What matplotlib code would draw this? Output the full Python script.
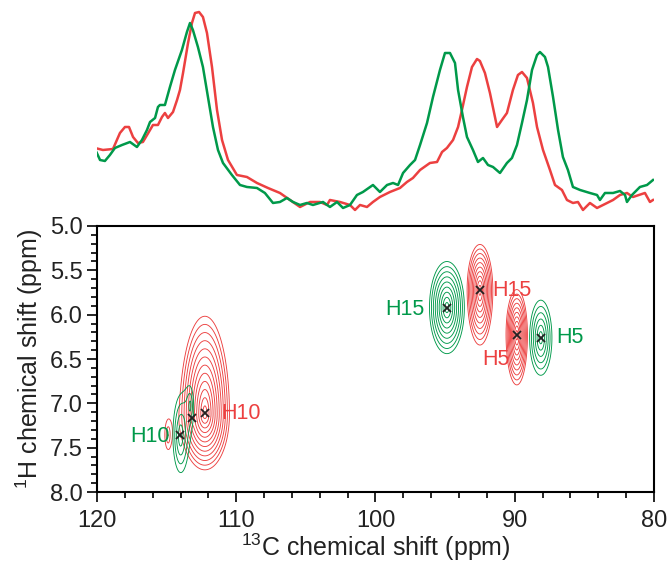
import numpy as np
import matplotlib
matplotlib.use('Agg')
from matplotlib import pyplot as plt
from matplotlib.ticker import MultipleLocator, FormatStrFormatter

plt.rcParams['font.family'] = ['Liberation Sans', 'DejaVu Sans']
plt.rcParams['mathtext.default'] = 'regular'

RED = '#ec4040'
GREEN = '#00994a'
TXT = '#222222'

# 1D 13C spectra (ppm, intensity in arbitrary units)
red_ppm = [120.14, 119.57, 118.85, 118.35, 117.99, 117.70, 117.41, 117.06, 116.70, 116.19,
           115.98, 115.62, 115.33, 115.12, 114.90, 114.54, 114.25, 114.04, 113.82, 113.46,
           113.18, 112.96, 112.67, 112.39, 112.10, 111.74, 111.38, 111.02, 110.59, 109.95,
           109.23, 108.51, 107.72, 106.86, 106.14, 105.42, 104.70, 103.99, 103.48, 103.27,
           102.55, 101.83, 101.47, 101.11, 100.61, 100.18, 99.68, 98.96, 98.24, 97.74,
           97.31, 96.80, 96.09, 95.58, 95.22, 94.87, 94.43, 94.07, 93.79, 93.43,
           93.07, 92.71, 92.50, 92.14, 91.78, 91.42, 91.27, 90.92, 90.56, 90.13,
           89.77, 89.48, 89.12, 88.69, 88.40, 87.97, 87.47, 87.11, 86.61, 86.25,
           85.82, 85.46, 85.10, 84.60, 84.09, 83.37, 82.94, 82.44, 81.94, 81.51,
           80.65, 80.29, 80.07]
red_int = [67, 65, 66, 82, 88, 88, 78, 72, 73, 85,
           90, 90, 98, 102, 97, 103, 115, 125, 142, 172,
           192, 202, 203, 198, 182, 148, 105, 75, 55, 40,
           38, 32, 27, 22, 15, 8, 13, 13, 10, 15,
           13, 10, 5, 10, 8, 13, 18, 23, 27, 33,
           37, 45, 52, 53, 63, 67, 75, 88, 105, 128,
           148, 156, 154, 142, 122, 98, 88, 95, 102, 125,
           140, 143, 137, 112, 88, 65, 45, 30, 25, 15,
           12, 13, 5, 12, 7, 12, 15, 20, 22, 18,
           22, 13, 15]

green_ppm = [120.14, 119.78, 119.43, 119.07, 118.71, 118.20, 117.63, 117.13, 116.77, 116.41,
             116.19, 115.83, 115.62, 115.48, 115.12, 114.76, 114.40, 113.90, 113.54, 113.32,
             113.11, 112.75, 112.39, 112.03, 111.67, 111.31, 110.95, 110.31, 109.73, 109.23,
             108.51, 107.94, 107.36, 106.86, 106.36, 105.92, 105.42, 104.92, 104.49, 103.77,
             103.27, 102.76, 102.33, 101.83, 101.33, 100.90, 100.18, 99.68, 99.17, 98.74,
             98.38, 98.02, 97.52, 97.16, 96.80, 96.30, 95.87, 95.37, 95.01, 94.65,
             94.29, 94.07, 93.72, 93.43, 93.00, 92.64, 92.28, 91.92, 91.56, 91.06,
             90.56, 90.20, 89.84, 89.48, 89.12, 88.76, 88.40, 88.19, 87.83, 87.61,
             87.25, 86.89, 86.54, 86.18, 85.82, 85.31, 84.60, 84.09, 83.88, 83.52,
             82.94, 82.44, 82.08, 81.94, 81.58, 81.01, 80.50, 80.07]
green_int = [66, 55, 54, 60, 67, 70, 73, 68, 75, 85,
             93, 97, 108, 110, 110, 128, 145, 165, 183, 192,
             185, 168, 148, 118, 88, 65, 52, 40, 30, 28,
             27, 22, 12, 13, 17, 13, 10, 12, 10, 13,
             8, 13, 7, 10, 20, 23, 30, 23, 30, 32,
             30, 42, 50, 55, 70, 92, 118, 145, 162, 162,
             152, 125, 98, 78, 65, 53, 57, 50, 48, 42,
             52, 57, 70, 92, 115, 145, 160, 163, 158, 148,
             118, 85, 58, 45, 28, 25, 22, 20, 15, 22,
             22, 24, 20, 13, 20, 28, 30, 35]

# 2D peaks: 13C center, 1H center, 13C width, 1H width above / below center, height
red_c = [112.25, 113.18, 114.90, 92.50, 89.85]
red_h = [7.12, 7.18, 7.36, 5.72, 6.23]
red_wc = [0.56, 0.08, 0.38, 0.35, 0.29]
red_wup = [0.35, 0.05, 0.26, 0.195, 0.195]
red_wdn = [0.20, 0.05, 0.26, 0.237, 0.214]
red_a = [23.3, 2.0, 1.6, 13.8, 13.8]

green_c = [114.00, 113.30, 94.87, 88.13]
green_h = [7.37, 7.02, 5.92, 6.26]
green_wc = [0.51, 0.30, 0.53, 0.51]
green_wup = [0.40, 0.25, 0.22, 0.27]
green_wdn = [0.38, 0.25, 0.22, 0.27]
green_a = [2.86, 1.4, 10.6, 4.8]

cross_c = [114.04, 113.18, 112.25, 94.87, 92.51, 89.85, 88.13]
cross_h = [7.36, 7.16, 7.11, 5.92, 5.72, 6.23, 6.26]

labels = ['H10', 'H10', 'H15', 'H15', 'H5', 'H5']
label_c = [116.2, 109.65, 97.9, 90.2, 91.35, 86.0]
label_h = [7.37, 7.11, 5.94, 5.73, 6.50, 6.26]
label_col = [GREEN, RED, GREEN, RED, RED, GREEN]


def peak_field(cc, hh, wc, wup, wdn, amp, X, Y):
	Z = np.zeros_like(X)
	for c0, h0, sc, su, sd, a in zip(cc, hh, wc, wup, wdn, amp):
		sh = np.where(Y < h0, su, sd)
		rho = np.sqrt(((X - c0) / sc) ** 2 + ((Y - h0) / sh) ** 2)
		Z += a * np.exp(-rho)
	return Z


fig = plt.figure(figsize=(6.72, 5.65), dpi=100)

ax1 = fig.add_axes([0.1443, 0.6195, 0.8289, 0.3628])
ax1.plot(red_ppm, red_int, color=RED, lw=1.8)
ax1.plot(green_ppm, green_int, color=GREEN, lw=1.8)
ax1.set_xlim(120, 80)
ax1.set_ylim(0, 205)
ax1.axis('off')

ax2 = fig.add_axes([0.1443, 0.1292, 0.8289, 0.4708])
xc = np.linspace(120, 80, 1000)
yh = np.linspace(5, 8, 800)
X, Y = np.meshgrid(xc, yh)
levels = 1.3 ** np.arange(0, 14)
ax2.contour(X, Y, peak_field(red_c, red_h, red_wc, red_wup, red_wdn, red_a, X, Y),
			levels=levels, colors=RED, linewidths=0.65)
ax2.contour(X, Y, peak_field(green_c, green_h, green_wc, green_wup, green_wdn, green_a, X, Y),
			levels=levels, colors=GREEN, linewidths=0.65)
ax2.plot(cross_c, cross_h, ls='none', marker='x', ms=6, mew=1.3, color=TXT)
for t, c0, h0, col in zip(labels, label_c, label_h, label_col):
	ax2.text(c0, h0, t, color=col, fontsize=15.5, ha='center', va='center')

ax2.set_xlim(120, 80)
ax2.set_ylim(8.0, 5.0)
ax2.xaxis.set_major_locator(MultipleLocator(10))
ax2.xaxis.set_minor_locator(MultipleLocator(2))
ax2.yaxis.set_major_locator(MultipleLocator(0.5))
ax2.yaxis.set_minor_locator(MultipleLocator(0.1))
ax2.yaxis.set_major_formatter(FormatStrFormatter('%.1f'))
ax2.tick_params(which='both', direction='out', width=1.2, colors='black',
				labelcolor=TXT, labelsize=17, top=False, right=False)
ax2.tick_params(which='major', length=7)
ax2.tick_params(which='minor', length=4.5)
ax2.tick_params(axis='x', pad=6)
for sp in ax2.spines.values():
	sp.set_linewidth(1.5)
ax2.set_xlabel('$^{13}$C chemical shift (ppm)', fontsize=18, color=TXT, labelpad=0)
ax2.set_ylabel('$^{1}$H chemical shift (ppm)', fontsize=18, color=TXT, labelpad=3)

plt.savefig('out.png', dpi=100)
